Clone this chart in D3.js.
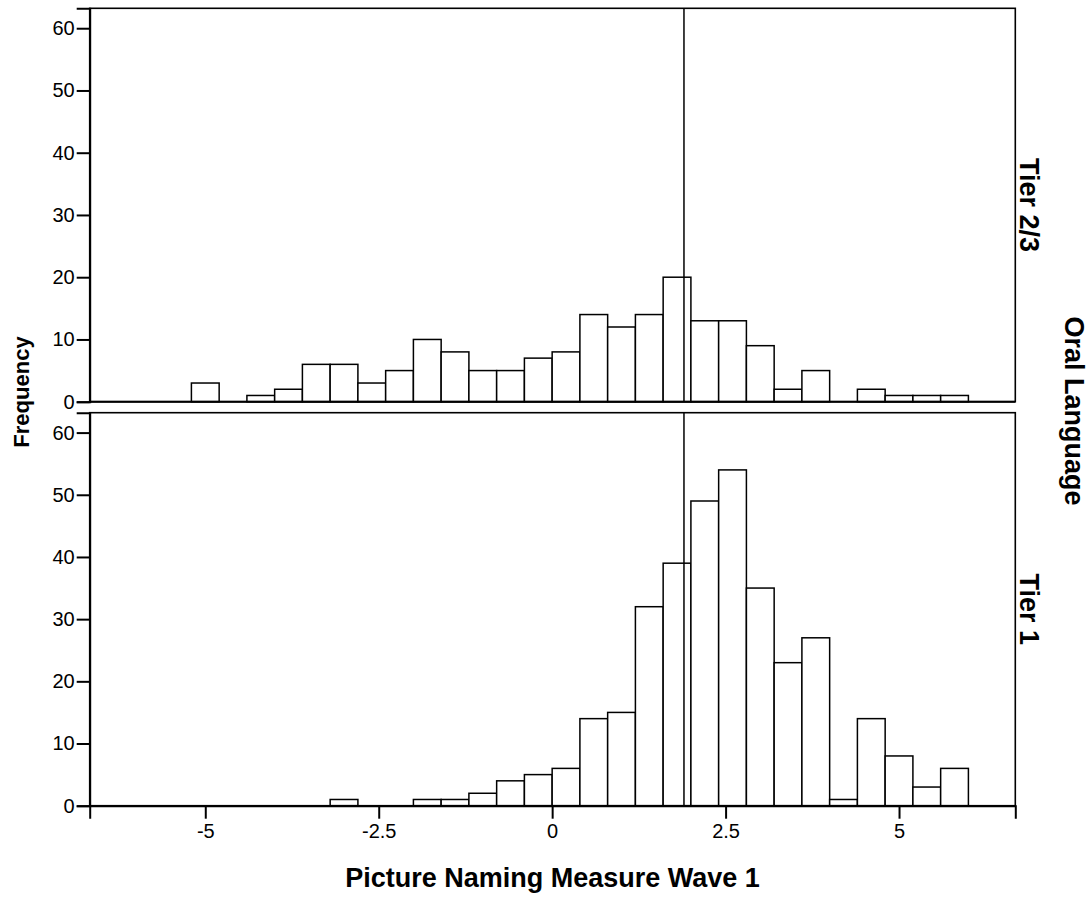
<!DOCTYPE html>
<html>
<head>
<meta charset="utf-8">
<script src="https://cdn.jsdelivr.net/npm/d3@7"></script>
<style>
  html, body { margin: 0; padding: 0; background: #fff; }
  svg { display: block; font-family: Arial, "Liberation Sans", sans-serif; }
</style>
</head>
<body>
<svg id="chart" width="1090" height="899"></svg>
<script>
// ---- data ----
const binStarts = [-5.2, -4.8, -4.4, -4.0, -3.6, -3.2, -2.8, -2.4, -2.0, -1.6, -1.2, -0.8, -0.4, 0.0,
                   0.4, 0.8, 1.2, 1.6, 2.0, 2.4, 2.8, 3.2, 3.6, 4.0, 4.4, 4.8, 5.2, 5.6];
const binWidth = 0.4;
const panels = ["Tier 2/3", "Tier 1"];
const countsTier23 = [3, 0, 1, 2, 6, 6, 3, 5, 10, 8, 5, 5, 7, 8, 14, 12, 14, 20, 13, 13, 9, 2, 5, 0, 2, 1, 1, 1];
const countsTier1  = [0, 0, 0, 0, 0, 1, 0, 0, 1, 1, 2, 4, 5, 6, 14, 15, 32, 39, 49, 54, 35, 23, 27, 1, 14, 8, 3, 6];
const refLine = 1.9;
const xTicks = [-5, -2.5, 0, 2.5, 5];
const xTickLabels = ["-5", "-2.5", "0", "2.5", "5"];
const yTicks = [0, 10, 20, 30, 40, 50, 60];
const xTitle = "Picture Naming Measure Wave 1";
const yTitle = "Frequency";
const facetTitle = "Oral Language";

// ---- layout ----
const svg = d3.select("#chart");
const left = 89.7, right = 1015.3;
const panelBox = [
  { top: 8.3, bottom: 401.7, counts: countsTier23, label: panels[0] },
  { top: 412.7, bottom: 805.7, counts: countsTier1, label: panels[1] }
];
const x = d3.scaleLinear().domain([-6.666, 6.676]).range([left, right]);

panelBox.forEach((p, i) => {
  const y = d3.scaleLinear().domain([0, 63.2]).range([p.bottom, p.top]);
  const g = svg.append("g");
  const bins = binStarts.map((s, k) => ({ x0: s, x1: s + binWidth, n: p.counts[k] })).filter(d => d.n > 0);

  g.selectAll("rect.bar").data(bins).enter().append("rect")
    .attr("class", "bar")
    .attr("x", d => x(d.x0))
    .attr("width", d => x(d.x1) - x(d.x0))
    .attr("y", d => y(d.n))
    .attr("height", d => y(0) - y(d.n))
    .attr("fill", "#fff")
    .attr("stroke", "#000")
    .attr("stroke-width", 1.5);

  g.append("line")
    .attr("x1", x(refLine)).attr("x2", x(refLine))
    .attr("y1", p.top).attr("y2", p.bottom)
    .attr("stroke", "#000").attr("stroke-width", 1.5);

  g.append("rect")
    .attr("x", left).attr("y", p.top)
    .attr("width", right - left).attr("height", p.bottom - p.top)
    .attr("fill", "none").attr("stroke", "#000").attr("stroke-width", 1.6);

  const yAxis = d3.axisLeft(y).tickValues(yTicks).tickSize(13).tickPadding(2).tickFormat(d3.format("d"));
  const ya = g.append("g").attr("transform", `translate(${left},0)`).call(yAxis);
  ya.select(".domain").attr("stroke", "#000").attr("stroke-width", 2);
  ya.selectAll(".tick line").attr("stroke", "#000").attr("stroke-width", 2);
  ya.selectAll(".tick text").attr("font-size", 20).attr("fill", "#000")
    .attr("font-family", "Arial, 'Liberation Sans', sans-serif");

  if (i === 1) {
    const xAxis = d3.axisBottom(x).tickValues(xTicks).tickSize(13).tickPadding(5)
      .tickFormat((d, k) => xTickLabels[k]);
    const xa = g.append("g").attr("transform", `translate(0,${p.bottom})`).call(xAxis);
    xa.select(".domain").attr("stroke", "#000").attr("stroke-width", 2);
    xa.selectAll(".tick line").attr("stroke", "#000").attr("stroke-width", 2);
    xa.selectAll(".tick text").attr("font-size", 20).attr("fill", "#000")
      .attr("font-family", "Arial, 'Liberation Sans', sans-serif");
  } else {
    g.append("line").attr("x1", left).attr("x2", right).attr("y1", p.bottom).attr("y2", p.bottom)
      .attr("stroke", "#000").attr("stroke-width", 2);
  }

  const cy = (p.top + p.bottom) / 2;
  svg.append("text")
    .attr("transform", `translate(1020,${cy}) rotate(90)`)
    .attr("text-anchor", "middle")
    .attr("font-size", 27).attr("font-weight", "bold").attr("fill", "#000")
    .text(p.label);
});

svg.append("text")
  .attr("x", (left + right) / 2).attr("y", 887)
  .attr("text-anchor", "middle")
  .attr("font-size", 27).attr("font-weight", "bold").attr("fill", "#000")
  .text(xTitle);

svg.append("text")
  .attr("transform", `translate(29,392) rotate(-90)`)
  .attr("text-anchor", "middle")
  .attr("font-size", 22).attr("font-weight", "bold").attr("fill", "#000")
  .text(yTitle);

svg.append("text")
  .attr("transform", `translate(1065,411) rotate(90)`)
  .attr("text-anchor", "middle")
  .attr("font-size", 27).attr("font-weight", "bold").attr("fill", "#000")
  .text(facetTitle);
</script>
</body>
</html>
